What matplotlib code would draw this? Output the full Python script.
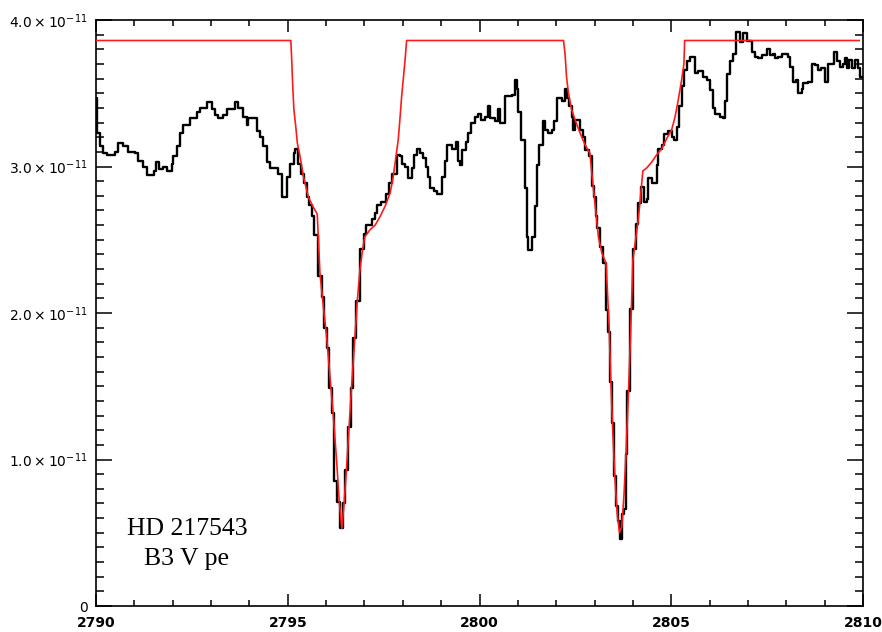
import numpy as np
import matplotlib
matplotlib.use('Agg')
import matplotlib.pyplot as plt
from matplotlib.ticker import MultipleLocator, FuncFormatter

# observed spectrum (step levels), flux in units of 1e-11
obs_wave = [
    2790.00, 2790.035, 2790.10, 2790.19, 2790.28, 2790.50, 2790.58, 2790.71, 2790.84, 2791.02,
    2791.10, 2791.23, 2791.32, 2791.50, 2791.57, 2791.65, 2791.76, 2791.84, 2791.97, 2792.02,
    2792.10, 2792.19, 2792.28, 2792.45, 2792.63, 2792.71, 2792.89, 2793.02, 2793.10, 2793.19,
    2793.32, 2793.41, 2793.62, 2793.71, 2793.84, 2793.93, 2793.97, 2794.19, 2794.28, 2794.36,
    2794.45, 2794.54, 2794.75, 2794.84, 2794.97, 2795.06, 2795.15, 2795.20, 2795.275, 2795.34,
    2795.42, 2795.49, 2795.56, 2795.62, 2795.68, 2795.80, 2795.885, 2795.945, 2796.02, 2796.08,
    2796.15, 2796.21, 2796.29, 2796.36, 2796.45, 2796.49, 2796.58, 2796.64, 2796.71, 2796.78,
    2796.88, 2796.99, 2797.04, 2797.19, 2797.275, 2797.32, 2797.42, 2797.56, 2797.65, 2797.71,
    2797.84, 2797.93, 2797.97, 2798.06, 2798.14, 2798.23, 2798.29, 2798.36, 2798.45, 2798.535,
    2798.605, 2798.665, 2798.71, 2798.81, 2798.90, 2799.01, 2799.10, 2799.145, 2799.275, 2799.39,
    2799.45, 2799.49, 2799.535, 2799.65, 2799.71, 2799.77, 2799.88, 2799.97, 2800.03, 2800.14,
    2800.23, 2800.27, 2800.40, 2800.49, 2800.53, 2800.665, 2800.84, 2800.93, 2800.97, 2801.01,
    2801.07, 2801.19, 2801.23, 2801.27, 2801.36, 2801.45, 2801.49, 2801.56, 2801.65, 2801.71,
    2801.79, 2801.88, 2801.94, 2802.01, 2802.14, 2802.23, 2802.29, 2802.34, 2802.40, 2802.45,
    2802.49, 2802.62, 2802.71, 2802.75, 2802.86, 2802.93, 2802.99, 2803.04, 2803.07, 2803.14,
    2803.23, 2803.30, 2803.36, 2803.40, 2803.45, 2803.51, 2803.56, 2803.62, 2803.66, 2803.71,
    2803.77, 2803.82, 2803.85, 2803.93, 2803.99, 2804.07, 2804.12, 2804.20, 2804.29, 2804.36,
    2804.40, 2804.49, 2804.62, 2804.66, 2804.75, 2804.81, 2804.92, 2805.01, 2805.07, 2805.16,
    2805.21, 2805.27, 2805.33, 2805.40, 2805.49, 2805.62, 2805.71, 2805.84, 2805.92, 2806.01,
    2806.08, 2806.14, 2806.27, 2806.36, 2806.40, 2806.46, 2806.53, 2806.62, 2806.69, 2806.79,
    2806.88, 2806.97, 2807.10, 2807.18, 2807.27, 2807.36, 2807.49, 2807.575, 2807.66, 2807.705,
    2807.79, 2807.88, 2808.05, 2808.10, 2808.17, 2808.25, 2808.31, 2808.40, 2808.44, 2808.57,
    2808.66, 2808.75, 2808.83, 2808.90, 2809.01, 2809.10, 2809.18, 2809.24, 2809.31, 2809.40,
    2809.49, 2809.53, 2809.59, 2809.64, 2809.705, 2809.79, 2809.88, 2809.92, 2809.97,
]
obs_flux = [
    3.47, 3.23, 3.14, 3.09, 3.08, 3.10, 3.16, 3.14, 3.10, 3.09,
    3.04, 3.00, 2.94, 2.97, 3.03, 2.98, 3.00, 2.97, 3.02, 3.07,
    3.14, 3.23, 3.28, 3.33, 3.37, 3.40, 3.44, 3.39, 3.35, 3.33,
    3.35, 3.39, 3.44, 3.40, 3.34, 3.28, 3.33, 3.24, 3.20, 3.14,
    3.03, 2.99, 2.95, 2.79, 2.93, 3.02, 3.09, 3.12, 3.02, 2.95,
    2.89, 2.79, 2.74, 2.66, 2.53, 2.25, 2.11, 1.90, 1.76, 1.49,
    1.32, 0.85, 0.71, 0.53, 0.70, 0.93, 1.22, 1.49, 1.83, 2.08,
    2.44, 2.54, 2.60, 2.64, 2.68, 2.74, 2.76, 2.81, 2.89, 2.95,
    3.08, 3.07, 3.02, 3.00, 2.92, 2.99, 3.08, 3.12, 3.09, 3.06,
    3.00, 2.93, 2.85, 2.83, 2.81, 2.93, 3.04, 3.15, 3.12, 3.17,
    3.04, 3.01, 3.11, 3.17, 3.23, 3.30, 3.34, 3.36, 3.32, 3.34,
    3.41, 3.33, 3.31, 3.39, 3.30, 3.48, 3.49, 3.59, 3.53, 3.37,
    3.18, 2.85, 2.52, 2.43, 2.52, 2.73, 3.01, 3.15, 3.31, 3.25,
    3.23, 3.25, 3.31, 3.47, 3.45, 3.53, 3.47, 3.41, 3.34, 3.25,
    3.32, 3.25, 3.20, 3.11, 3.07, 2.87, 2.79, 2.66, 2.58, 2.45,
    2.34, 2.02, 1.87, 1.53, 1.25, 0.89, 0.68, 0.58, 0.46, 0.63,
    0.66, 1.04, 1.47, 2.03, 2.44, 2.61, 2.75, 2.86, 2.76, 2.78,
    2.92, 2.89, 3.01, 3.12, 3.15, 3.22, 3.24, 3.20, 3.18, 3.27,
    3.41, 3.55, 3.66, 3.72, 3.75, 3.64, 3.65, 3.61, 3.59, 3.52,
    3.40, 3.36, 3.34, 3.33, 3.45, 3.63, 3.72, 3.77, 3.92, 3.85,
    3.91, 3.86, 3.78, 3.75, 3.74, 3.76, 3.80, 3.76, 3.77, 3.74,
    3.75, 3.77, 3.75, 3.68, 3.58, 3.59, 3.50, 3.53, 3.57, 3.58,
    3.70, 3.69, 3.66, 3.67, 3.58, 3.70, 3.70, 3.78, 3.72, 3.68,
    3.70, 3.74, 3.67, 3.73, 3.67, 3.73, 3.67, 3.61, 3.61,
]

# model fit, flux in units of 1e-11
fit_wave = [
    2790.00, 2795.08, 2795.10, 2795.13, 2795.16, 2795.21, 2795.25, 2795.32, 2795.41, 2795.54,
    2795.67, 2795.76, 2795.77, 2795.80, 2795.84, 2795.93, 2796.02, 2796.10, 2796.19, 2796.28,
    2796.34, 2796.41, 2796.47, 2796.54, 2796.61, 2796.67, 2796.74, 2796.81, 2796.88, 2796.95,
    2797.01, 2797.15, 2797.28, 2797.41, 2797.54, 2797.67, 2797.75, 2797.88, 2797.93, 2797.97,
    2798.01, 2798.06, 2798.10, 2802.19, 2802.23, 2802.27, 2802.32, 2802.40, 2802.49, 2802.62,
    2802.75, 2802.88, 2802.93, 2803.01, 2803.10, 2803.19, 2803.30, 2803.33, 2803.38, 2803.42,
    2803.47, 2803.53, 2803.59, 2803.65, 2803.71, 2803.77, 2803.82, 2803.88, 2803.94, 2804.00,
    2804.06, 2804.14, 2804.19, 2804.26, 2804.36, 2804.49, 2804.62, 2804.75, 2804.88, 2805.01,
    2805.10, 2805.18, 2805.27, 2805.33, 2805.35, 2809.90,
]
fit_flux = [
    3.86, 3.86, 3.75, 3.55, 3.39, 3.27, 3.16, 3.07, 2.93, 2.79,
    2.72, 2.68, 2.67, 2.50, 2.27, 2.04, 1.82, 1.57, 1.29, 0.97,
    0.72, 0.53, 0.70, 0.97, 1.27, 1.52, 1.79, 2.07, 2.29, 2.43,
    2.52, 2.57, 2.60, 2.66, 2.73, 2.82, 2.93, 3.18, 3.34, 3.48,
    3.59, 3.73, 3.86, 3.86, 3.77, 3.61, 3.50, 3.39, 3.32, 3.23,
    3.15, 3.09, 2.95, 2.75, 2.52, 2.41, 2.34, 2.18, 1.91, 1.57,
    1.22, 0.88, 0.63, 0.50, 0.54, 0.77, 1.04, 1.43, 1.86, 2.36,
    2.48, 2.64, 2.77, 2.97, 2.99, 3.03, 3.08, 3.12, 3.19, 3.25,
    3.34, 3.45, 3.59, 3.70, 3.86, 3.86,
]

x_ticks = [2790, 2795, 2800, 2805, 2810]
y_ticks = [0, 1, 2, 3, 4]
star_name = 'HD 217543'
star_type = 'B3 V pe'

scale = 1e-11
fig = plt.figure(figsize=(8.82, 6.32), dpi=100)
fig.patch.set_facecolor('white')
ax = fig.add_axes([96 / 882, 26 / 632, 767 / 882, 586 / 632])

ax.step(obs_wave, np.array(obs_flux) * scale, where='post', color='black', linewidth=1.7, zorder=2)
ax.plot(fit_wave, np.array(fit_flux) * scale, color='#ff1a1a', linewidth=1.2, zorder=3)

ax.set_xlim(2790, 2810)
ax.set_ylim(0, 4e-11)

ax.set_xticks(x_ticks)
ax.xaxis.set_minor_locator(MultipleLocator(1))
ax.set_yticks([v * scale for v in y_ticks])
ax.yaxis.set_minor_locator(MultipleLocator(1e-12))


def yfmt(v, pos):
    m = v / scale
    if abs(m) < 1e-6:
        return '0'
    return r'$%.1f\times10^{-11}$' % m


ax.yaxis.set_major_formatter(FuncFormatter(yfmt))
ax.xaxis.set_major_formatter(FuncFormatter(lambda v, p: '%d' % round(v)))

ax.tick_params(which='both', direction='in', top=True, right=True, width=1.1, colors='black')
ax.tick_params(axis='y', which='major', length=11.5, pad=6, labelsize=10)
ax.tick_params(axis='y', which='minor', length=5.5)
ax.tick_params(axis='x', which='major', length=8.6, pad=7.5, labelsize=10)
ax.tick_params(axis='x', which='minor', length=4.3)
for lab in ax.get_xticklabels():
    lab.set_fontweight('bold')
for s in ax.spines.values():
    s.set_linewidth(1.2)

ax.text(0.1186, 0.121, star_name, transform=ax.transAxes, ha='center', va='baseline',
        fontsize=18.5, family='Liberation Serif')
ax.text(0.1186, 0.070, star_type, transform=ax.transAxes, ha='center', va='baseline',
        fontsize=18.5, family='Liberation Serif')

fig.savefig('out.png', dpi=100, facecolor='white')
